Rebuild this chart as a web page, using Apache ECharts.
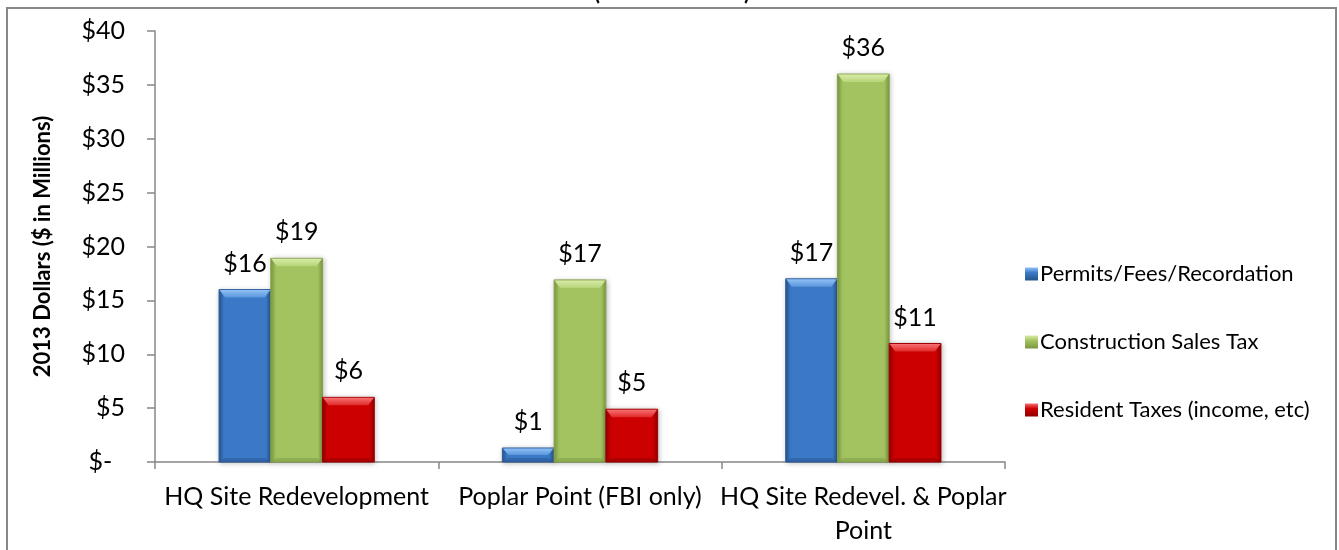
<!DOCTYPE html>
<html>
<head>
<meta charset="utf-8">
<script src="https://cdn.jsdelivr.net/npm/echarts@6/dist/echarts.min.js"></script>
<style>
  html, body { margin: 0; padding: 0; background: #ffffff; }
  #chart { width: 1339px; height: 550px; }
</style>
</head>
<body>
<div id="chart"></div>
<script>
// Projects compared along the category axis
const categories = [
  'HQ Site Redevelopment',
  'Poplar Point (FBI only)',
  'HQ Site Redevel. & Poplar\nPoint'
];

// One-time revenue by source, 2013 $ millions
const seriesNames = [
  'Permits/Fees/Recordation',
  'Construction Sales Tax',
  'Resident Taxes (income, etc)'
];
const permitsFees = [16, 1.3, 17];
const constructionSalesTax = [18.9, 16.9, 36];
const residentTaxes = [6, 4.9, 11];

// Value axis ticks
const yTicks = [0, 5, 10, 15, 20, 25, 30, 35, 40];

const FONT = 'Lato, "Noto Sans", sans-serif';

// Bevelled-bar palettes: face, lit top edge, shaded edge
const palettes = [
  { face: '#3b79c7', light: '#8fc0f5', mid: '#5a95dc', dark: '#27538c', edge: '#2d5e9c' },
  { face: '#a2c35f', light: '#d8eca6', mid: '#b6d479', dark: '#7b9742', edge: '#86a24c' },
  { face: '#cc0000', light: '#f87070', mid: '#e02a2a', dark: '#8f0000', edge: '#9e0000' }
];

const GROUP_FRACTION = 0.548; // share of a category band filled by the three bars

function bevelBar(params, api) {
  const si = params.seriesIndex;
  const pal = palettes[si];
  const ci = api.value(0);
  const v = api.value(1);
  const base = api.coord([ci, 0]);
  const top = api.coord([ci, v]);
  const band = api.size([1, 0])[0];
  const bw = band * GROUP_FRACTION / 3;
  const cx = base[0] + (si - 1) * bw;
  const x0 = cx - bw / 2, x1 = cx + bw / 2;
  const y0 = top[1], y1 = base[1];
  const h = y1 - y0;
  const b = Math.min(8, h / 2);
  const bb = Math.min(4, h / 3);
  const s = Math.min(6, bw / 4);

  return {
    type: 'group',
    children: [
      { // face
        type: 'rect',
        shape: { x: x0, y: y0, width: bw, height: h },
        style: {
          fill: new echarts.graphic.LinearGradient(0, 0, 1, 0, [
            { offset: 0, color: pal.dark },
            { offset: 0.1, color: pal.face },
            { offset: 0.9, color: pal.face },
            { offset: 1, color: pal.dark }
          ]),
          stroke: pal.edge,
          lineWidth: 1,
          shadowBlur: 5,
          shadowColor: 'rgba(0,0,0,0.25)',
          shadowOffsetX: 1,
          shadowOffsetY: 1
        }
      },
      { // lit top bevel
        type: 'polygon',
        shape: { points: [[x0 + 0.5, y0 + 0.5], [x1 - 0.5, y0 + 0.5], [x1 - s, y0 + b], [x0 + s, y0 + b]] },
        style: {
          fill: new echarts.graphic.LinearGradient(0, 0, 0, 1, [
            { offset: 0, color: pal.light },
            { offset: 1, color: pal.mid }
          ])
        }
      },
      { // shaded bottom bevel
        type: 'polygon',
        shape: { points: [[x0, y1], [x1, y1], [x1 - s, y1 - bb], [x0 + s, y1 - bb]] },
        style: { fill: pal.dark, opacity: 0.45 }
      },
      { // value label
        type: 'text',
        style: {
          text: '$' + Math.round(v),
          x: cx,
          y: y0 - 26,
          align: 'center',
          verticalAlign: 'middle',
          fill: '#000000',
          font: '25px ' + FONT
        }
      }
    ]
  };
}

const seriesValues = [permitsFees, constructionSalesTax, residentTaxes];

const chart = echarts.init(document.getElementById('chart'), null, { renderer: 'canvas' });

chart.setOption({
  backgroundColor: '#ffffff',
  animation: false,
  textStyle: { fontFamily: FONT },
  grid: { left: 155, right: 334, top: 31, bottom: 88, containLabel: false },
  legend: {
    orient: 'vertical',
    left: 1020,
    top: 258,
    itemGap: 46,
    itemWidth: 13,
    itemHeight: 13,
    icon: 'rect',
    textStyle: { fontSize: 22, color: '#000000', fontFamily: FONT, padding: [0, 0, 0, -3] },
    data: seriesNames
  },
  xAxis: {
    type: 'category',
    data: categories,
    boundaryGap: true,
    axisLine: { show: true, lineStyle: { color: '#878787', width: 1.5 } },
    axisTick: { show: true, alignWithLabel: false, length: 7, lineStyle: { color: '#878787', width: 1.5 } },
    axisLabel: {
      interval: 0,
      margin: 18,
      fontSize: 25,
      lineHeight: 34,
      color: '#000000',
      fontFamily: FONT
    },
    splitLine: { show: false }
  },
  yAxis: {
    type: 'value',
    min: yTicks[0],
    max: yTicks[yTicks.length - 1],
    interval: yTicks[1] - yTicks[0],
    name: '2013 Dollars ($ in Millions)',
    nameLocation: 'middle',
    nameGap: 101,
    nameTextStyle: { fontSize: 22, fontWeight: 'bold', color: '#000000', fontFamily: FONT },
    axisLine: { show: true, lineStyle: { color: '#878787', width: 1.5 } },
    axisTick: { show: true, length: 8, lineStyle: { color: '#878787', width: 1.5 } },
    axisLabel: {
      margin: 30,
      fontSize: 25,
      color: '#000000',
      fontFamily: FONT,
      formatter: function (v) { return v === 0 ? '$-  ' : '$' + v; }
    },
    splitLine: { show: false }
  },
  series: seriesNames.map(function (name, i) {
    return {
      name: name,
      type: 'custom',
      renderItem: bevelBar,
      encode: { x: 0, y: 1 },
      itemStyle: {
        color: new echarts.graphic.LinearGradient(0, 0, 0, 1, [
          { offset: 0, color: palettes[i].light },
          { offset: 0.4, color: palettes[i].face },
          { offset: 1, color: palettes[i].dark }
        ])
      },
      data: seriesValues[i].map(function (v, ci) { return [ci, v]; })
    };
  }),
  graphic: [
    { // chart frame
      type: 'rect',
      silent: true,
      shape: { x: 7, y: 8, width: 1329, height: 560 },
      style: { fill: null, stroke: '#878787', lineWidth: 2 }
    },
    { // title row sits above the frame; only its parentheses' tails show
      type: 'text',
      silent: true,
      style: { text: '(', x: 594, y: 4, verticalAlign: 'bottom', font: 'bold 22px ' + FONT, fill: '#000000' }
    },
    {
      type: 'text',
      silent: true,
      style: { text: ')', x: 744, y: 4, verticalAlign: 'bottom', font: 'bold 22px ' + FONT, fill: '#000000' }
    }
  ]
});
</script>
</body>
</html>
